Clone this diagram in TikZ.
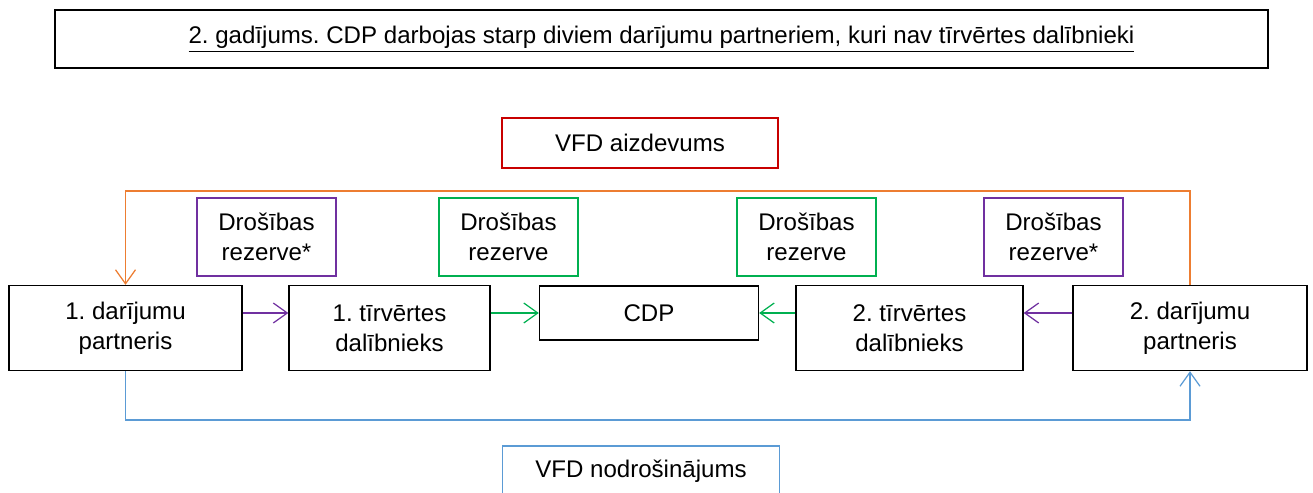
\documentclass[tikz,border=0pt]{standalone}
\usepackage{fontspec}
\setmainfont{Liberation Sans}
\usepackage{tikz}
\usetikzlibrary{arrows.meta,positioning,calc}
\frenchspacing

\definecolor{vfdred}{RGB}{200,0,0}
\definecolor{vfdorange}{RGB}{237,125,49}
\definecolor{vfdpurple}{RGB}{112,48,160}
\definecolor{vfdgreen}{RGB}{0,176,80}
\definecolor{vfdblue}{RGB}{91,155,213}

\begin{document}
\begin{tikzpicture}[
  x=0.02cm, y=-0.02cm,
  font=\fontsize{13.7}{17}\selectfont,
  box/.style={draw, line width=0.8pt, inner sep=0pt, align=center},
  party/.style={box, minimum height=1.7cm},
  reserve/.style={box, minimum width=2.78cm, minimum height=1.56cm},
  arrow/.style={line width=0.7pt, -{Straight Barb[length=0.28cm, width=0.4cm]}}
]
\useasboundingbox (0,0) rectangle (1313,493);

\node[box, minimum width=24.26cm, minimum height=1.16cm] (title) at (661.5,39)
  {\underline{2. gadījums. CDP darbojas starp diviem darījumu partneriem, kuri nav tīrvērtes dalībnieki}};

\node[box, draw=vfdred, minimum width=5.52cm, minimum height=1.0cm] (loan) at (640,143) {VFD aizdevums};

\node[reserve, draw=vfdpurple] (res1) at (266.5,237) {Drošības\\rezerve*};
\node[reserve, draw=vfdgreen] (res2) at (508.5,237) {Drošības\\rezerve};
\node[reserve, draw=vfdgreen] (res3) at (806.5,237) {Drošības\\rezerve};
\node[reserve, draw=vfdpurple] (res4) at (1053.5,237) {Drošības\\rezerve*};

\node[party, minimum width=4.66cm] (partner1) at (125.5,328) {1. darījumu\\partneris};
\node[party, minimum width=4.02cm] (member1) at (389.5,328) {1. tīrvērtes\\dalībnieks};
\node[box, minimum width=4.38cm, minimum height=1.08cm] (cdp) at (649,313) {CDP};
\node[party, minimum width=4.54cm] (member2) at (909.5,328) {2. tīrvērtes\\dalībnieks};
\node[party, minimum width=4.68cm] (partner2) at (1190,328) {2. darījumu\\partneris};

\node[box, draw=vfdblue, minimum width=5.54cm, minimum height=1.0cm] (collateral) at (641,471) {VFD nodrošinājums};

\coordinate (looptop) at (0,191);
\coordinate (loopbottom) at (0,420);

\draw[arrow, vfdpurple] (partner1.east |- cdp.west) -- (member1.west |- cdp.west);
\draw[arrow, vfdgreen] (member1.east |- cdp.west) -- (cdp.west);
\draw[arrow, vfdgreen] (member2.west |- cdp.east) -- (cdp.east);
\draw[arrow, vfdpurple] (partner2.west |- cdp.east) -- (member2.east |- cdp.east);
\draw[arrow, vfdorange] (partner2.north) -- (partner2.north |- looptop) -| (partner1.north);
\draw[arrow, vfdblue] (partner1.south) -- (partner1.south |- loopbottom) -| (partner2.south);
\end{tikzpicture}
\end{document}
